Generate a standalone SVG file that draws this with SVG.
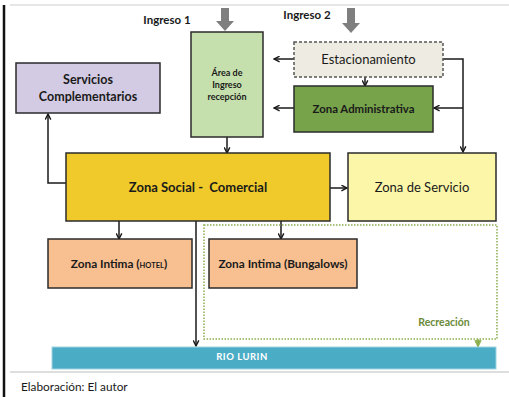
<svg xmlns="http://www.w3.org/2000/svg" width="509" height="397" viewBox="0 0 509 397">
<defs>
<style>
text{font-family:Lato,"Open Sans","Liberation Sans",sans-serif;fill:#1a1a1a;text-anchor:middle}
.b{font-weight:bold}
.box{stroke:#2b2b2b;stroke-width:1.5}
.c{fill:none;stroke:#1a1a1a;stroke-width:1.5}
</style>
<marker id="ah" viewBox="0 0 10 10" refX="9" refY="5" markerWidth="7" markerHeight="7" markerUnits="userSpaceOnUse" orient="auto">
<path d="M1,1 L9,5 L1,9" fill="none" stroke="#1a1a1a" stroke-width="2"/>
</marker>
<marker id="ahg" viewBox="0 0 10 10" refX="9" refY="5" markerWidth="8" markerHeight="8" markerUnits="userSpaceOnUse" orient="auto">
<path d="M1,1 L9,5 L1,9 Z" fill="#8cb04d" stroke="#8cb04d"/>
</marker>
</defs>
<rect width="509" height="397" fill="#ffffff"/>
<line x1="10" y1="5" x2="509" y2="5" stroke="#e6e6e6" stroke-width="2"/>
<line x1="4" y1="5" x2="4" y2="397" stroke="#111" stroke-width="2.5"/>
<line x1="10" y1="372" x2="509" y2="372" stroke="#bdbdbd" stroke-width="1"/>

<g id="ingreso1">
<text x="167" y="24" class="b" font-size="11.5">Ingreso 1</text>
<path d="M221,8 H229 V21 H234 L225,31 L216,21 H221 Z" fill="#7f7f7f"/>
</g>
<g id="ingreso2">
<text x="307" y="19" class="b" font-size="11.5">Ingreso 2</text>
<path d="M347,8 H355 V23 H360 L351,33 L342,23 H347 Z" fill="#7f7f7f"/>
</g>

<g id="connectors">
<path class="c" d="M294,59 H274" marker-end="url(#ah)"/>
<path class="c" d="M294,108 H274" marker-end="url(#ah)"/>
<path class="c" d="M365,77 V86" marker-end="url(#ah)"/>
<path class="c" d="M443,59 H463 V152" marker-end="url(#ah)"/>
<path class="c" d="M463,108 H434" marker-end="url(#ah)"/>
<path class="c" d="M227,137 V153" marker-end="url(#ah)"/>
<path class="c" d="M66,183 H48 V114" marker-end="url(#ah)"/>
<path class="c" d="M330,188 H347" marker-end="url(#ah)"/>
<path class="c" d="M119,221 V239" marker-end="url(#ah)"/>
<path class="c" d="M281,221 V239" marker-end="url(#ah)"/>
<path class="c" d="M196,221 V346" marker-end="url(#ah)"/>
<path d="M478,339 V347" fill="none" stroke="#8cb04d" stroke-width="1.5" marker-end="url(#ahg)"/>
</g>

<g id="recreacion">
<rect x="204" y="225" width="293" height="114" fill="none" stroke="#8cb04d" stroke-width="1.5" stroke-dasharray="1.5,1.5"/>
<text x="444" y="326" class="b" font-size="10.5" style="fill:#6a8a38">Recreación</text>
</g>

<g id="servicios">
<rect class="box" x="16" y="63" width="144" height="50" fill="#d3cbe3"/>
<text x="88" y="84" class="b" font-size="12.5">Servicios</text>
<text x="88" y="101" class="b" font-size="12.5">Complementarios</text>
</g>

<g id="area">
<rect class="box" x="191" y="32" width="72" height="105" fill="#c6e0ad"/>
<text x="227" y="76" class="b" font-size="9">Área de</text>
<text x="227" y="88" class="b" font-size="9">Ingreso</text>
<text x="227" y="100" class="b" font-size="9">recepción</text>
</g>

<g id="estacionamiento">
<rect x="294" y="42" width="149" height="35" fill="#eeece2" stroke="#555" stroke-width="1.5" stroke-dasharray="3,2"/>
<text x="368.5" y="64" font-size="13">Estacionamiento</text>
</g>

<g id="administrativa">
<rect class="box" x="294" y="86" width="139" height="46" fill="#77a34b"/>
<text x="363.5" y="113" class="b" font-size="11.4">Zona Administrativa</text>
</g>

<g id="social">
<rect class="box" x="66" y="153" width="264" height="68" fill="#efca2a"/>
<text x="198" y="192" class="b" font-size="13" xml:space="preserve">Zona Social -  Comercial</text>
</g>

<g id="servicio">
<rect class="box" x="348" y="153" width="148" height="68" fill="#fcf6a9"/>
<text x="422" y="192" font-size="13">Zona de Servicio</text>
</g>

<g id="hotel">
<rect class="box" x="48" y="239" width="144" height="49" fill="#f8bf90"/>
<text x="119" y="268" class="b" font-size="11.8">Zona Intima (<tspan font-size="7.5">HOTEL</tspan>)</text>
</g>

<g id="bungalows">
<rect class="box" x="209" y="239" width="148" height="49" fill="#f8bf90"/>
<text x="283" y="268" class="b" font-size="11.8">Zona Intima (Bungalows)</text>
</g>

<g id="rio">
<rect x="52" y="347" width="444" height="22" fill="#4bacc6" stroke="#9fd3e2" stroke-width="1"/>
<text x="242" y="360" class="b" font-size="9.5" style="fill:#ffffff" letter-spacing="0.5">RIO LURIN</text>
</g>

<text x="21" y="391" font-size="11.8" style="text-anchor:start">Elaboración: El autor</text>
</svg>
